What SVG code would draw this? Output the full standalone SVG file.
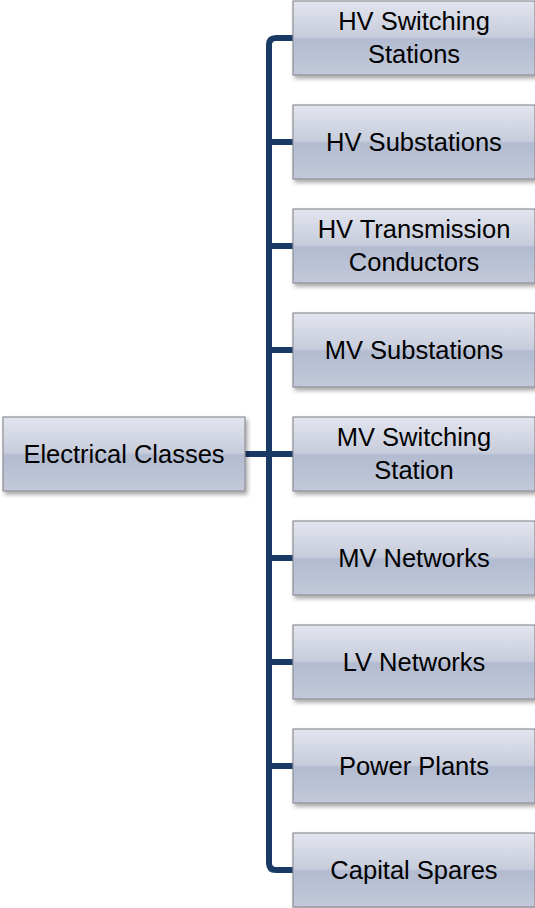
<svg xmlns="http://www.w3.org/2000/svg" width="535" height="908" viewBox="0 0 535 908">
<defs>
<linearGradient id="g" x1="0" y1="0" x2="0" y2="1">
<stop offset="0" stop-color="#e2e5ee"/>
<stop offset="0.48" stop-color="#c8cddc"/>
<stop offset="0.52" stop-color="#b2bbd0"/>
<stop offset="1" stop-color="#c3c9da"/>
</linearGradient>
<filter id="sh" x="-10%" y="-10%" width="130%" height="140%">
<feDropShadow dx="2" dy="3" stdDeviation="2" flood-color="#000" flood-opacity="0.35"/>
</filter>
</defs>
<style>
.box{fill:url(#g);stroke:#8e8e96;stroke-width:1.2;filter:url(#sh)}
.t{font-family:"Liberation Sans",Arial,sans-serif;font-size:25.5px;fill:#000;text-anchor:middle}
.c{fill:none;stroke:#1a3a66;stroke-width:6;stroke-linejoin:round}
</style>
<g id="connectors">
<path class="c" d="M293,38 H276 Q269,38 269,45 V863 Q269,870 276,870 H293"/>
<path class="c" d="M245,454 H293"/>
<path class="c" d="M269,142 H293 M269,246 H293 M269,350 H293 M269,558 H293 M269,662 H293 M269,766 H293"/>
</g>
<g id="root"><rect class="box" x="3" y="417" width="242" height="74"/><text class="t" x="124" y="463">Electrical Classes</text></g>
<g id="n1"><rect class="box" x="293" y="1" width="242" height="74"/><text class="t" x="414" y="30">HV Switching</text><text class="t" x="414" y="63">Stations</text></g>
<g id="n2"><rect class="box" x="293" y="105" width="242" height="74"/><text class="t" x="414" y="151">HV Substations</text></g>
<g id="n3"><rect class="box" x="293" y="209" width="242" height="74"/><text class="t" x="414" y="238">HV Transmission</text><text class="t" x="414" y="271">Conductors</text></g>
<g id="n4"><rect class="box" x="293" y="313" width="242" height="74"/><text class="t" x="414" y="359">MV Substations</text></g>
<g id="n5"><rect class="box" x="293" y="417" width="242" height="74"/><text class="t" x="414" y="446">MV Switching</text><text class="t" x="414" y="479">Station</text></g>
<g id="n6"><rect class="box" x="293" y="521" width="242" height="74"/><text class="t" x="414" y="567">MV Networks</text></g>
<g id="n7"><rect class="box" x="293" y="625" width="242" height="74"/><text class="t" x="414" y="671">LV Networks</text></g>
<g id="n8"><rect class="box" x="293" y="729" width="242" height="74"/><text class="t" x="414" y="775">Power Plants</text></g>
<g id="n9"><rect class="box" x="293" y="833" width="242" height="74"/><text class="t" x="414" y="879">Capital Spares</text></g>
</svg>
